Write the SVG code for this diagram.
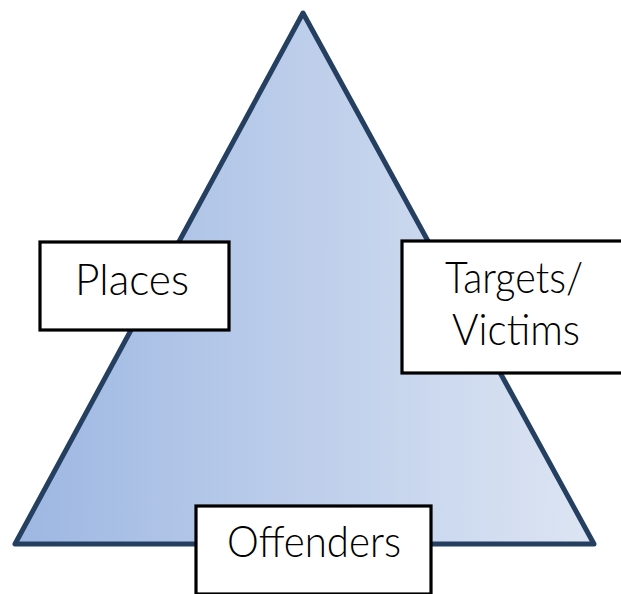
<svg xmlns="http://www.w3.org/2000/svg" width="621" height="594" viewBox="0 0 621 594">
  <defs>
    <linearGradient id="triFill" x1="0" y1="0" x2="1" y2="0">
      <stop offset="0" stop-color="#9db7e2"/>
      <stop offset="1" stop-color="#dde5f3"/>
    </linearGradient>
  </defs>
  <style>
    .tri { fill: url(#triFill); stroke: #243f60; stroke-width: 5; stroke-linejoin: round; }
    .box { fill: #ffffff; stroke: #000000; stroke-width: 3.2; }
    .label { font-family: "Lato", "Liberation Sans", sans-serif; font-weight: 300; font-size: 43px; fill: #000000; text-anchor: middle; }
  </style>
  <rect width="621" height="594" fill="#ffffff"/>
  <g id="triangle">
    <polygon class="tri" points="303,13 15,544 594,544"/>
  </g>
  <g id="connectors"></g>
  <g id="places">
    <rect class="box" x="40" y="242" width="189" height="88"/>
    <text class="label" x="132" y="295" textLength="114" lengthAdjust="spacingAndGlyphs">Places</text>
  </g>
  <g id="targets">
    <rect class="box" x="402" y="241" width="222" height="132"/>
    <text class="label" x="514" y="293" textLength="138" lengthAdjust="spacingAndGlyphs">Targets/</text>
    <text class="label" x="516" y="345" textLength="128" lengthAdjust="spacingAndGlyphs">Victims</text>
  </g>
  <g id="offenders">
    <rect class="box" x="196" y="506" width="235" height="88"/>
    <text class="label" x="314" y="557" textLength="174" lengthAdjust="spacingAndGlyphs">Offenders</text>
  </g>
</svg>
